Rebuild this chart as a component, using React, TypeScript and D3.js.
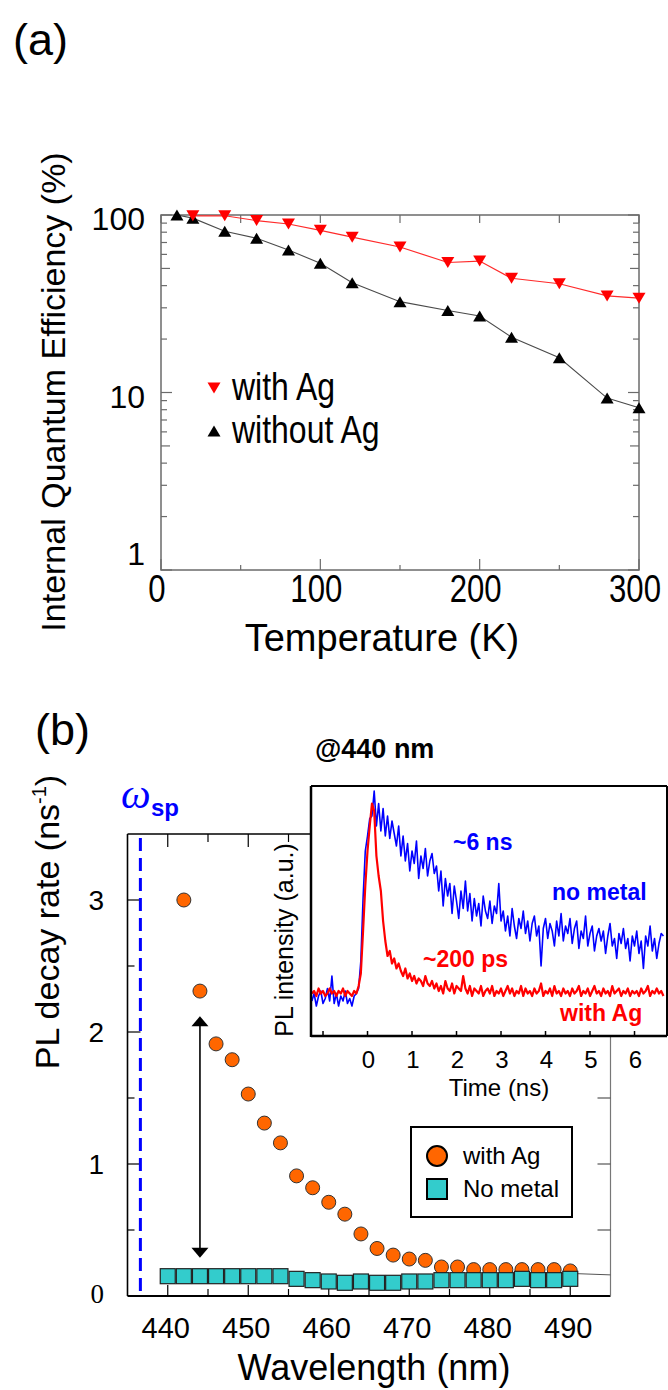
import React from 'react'
import { scaleLinear, scaleLog, line, range } from 'd3'

// (a) internal quantum efficiency vs temperature
const tempWithAg = [20, 40, 60, 80, 100, 120, 150, 180, 200, 220, 250, 280, 300]
const iqeWithAg = [99, 99, 93, 89, 82, 75, 66, 54, 55, 44, 41, 35, 34]
const tempNoAg = [10, 20, 40, 60, 80, 100, 120, 150, 180, 200, 220, 250, 280, 300]
const iqeNoAg = [100, 96, 81, 74, 63.5, 53.5, 41.5, 32.5, 29, 27, 20.5, 15.7, 9.3, 8.2]
const aXTicks = [0, 100, 200, 300]
const aYTicks = [100, 10, 1]

// (b) PL decay rate vs wavelength
const waveWithAg = range(442, 491, 2)
const rateWithAg = [3.0, 2.31, 1.91, 1.79, 1.53, 1.31, 1.16, 0.91, 0.82, 0.71, 0.62, 0.47, 0.36, 0.31, 0.28, 0.27, 0.22, 0.22, 0.2, 0.2, 0.2, 0.2, 0.2, 0.2, 0.19]
const waveNoMetal = range(440, 491, 2)
const rateNoMetal = [0.15, 0.15, 0.15, 0.15, 0.15, 0.15, 0.15, 0.15, 0.13, 0.12, 0.11, 0.1, 0.11, 0.1, 0.1, 0.11, 0.11, 0.12, 0.12, 0.12, 0.12, 0.12, 0.13, 0.12, 0.12, 0.13]
const fitTail = [[486, 0.18], [495, 0.16]]
const omegaSp = 436.6
const arrowWave = 444
const arrowSpan = [0.29, 2.12]
const bXTicks = [440, 450, 460, 470, 480, 490]
const bYTicks = [3, 2, 1]

// inset: PL transients @440 nm, sampled every 0.05 ns from -1.25 ns
const tStart = -1.25
const tStep = 0.05
const plNoMetal = [
  0.14, 0.17, 0.12, 0.16, 0.18, 0.13, 0.15, 0.19, 0.14, 0.24, 0.13, 0.17, 0.12, 0.16, 0.14, 0.18, 0.13, 0.15, 0.12, 0.16, 0.17, 0.19,
  0.30, 0.55, 0.74, 0.80, 0.87, 0.88, 0.98,
  0.84, 0.93, 0.82, 0.91, 0.80, 0.88, 0.79, 0.86, 0.81, 0.76, 0.84,
  0.72, 0.80, 0.70, 0.77, 0.66, 0.74, 0.69, 0.78, 0.63, 0.72, 0.67, 0.75, 0.64, 0.70, 0.73, 0.65,
  0.68, 0.58, 0.66, 0.52, 0.63, 0.56, 0.61, 0.49, 0.60, 0.54, 0.47, 0.58, 0.51, 0.62,
  0.50, 0.57, 0.46, 0.55, 0.48, 0.53, 0.44, 0.56, 0.50, 0.47, 0.54, 0.45, 0.52, 0.49, 0.61, 0.46,
  0.50, 0.42, 0.48, 0.40, 0.51, 0.44, 0.39, 0.47, 0.43, 0.50, 0.41, 0.46, 0.38, 0.45,
  0.48, 0.40, 0.44, 0.28, 0.43, 0.47, 0.39, 0.45, 0.42, 0.36, 0.46, 0.40, 0.49, 0.38, 0.44, 0.41,
  0.47, 0.37, 0.43, 0.46, 0.35, 0.42, 0.39, 0.48, 0.36, 0.41, 0.44, 0.34, 0.40, 0.43,
  0.38, 0.42, 0.33, 0.40, 0.45, 0.36, 0.39, 0.31, 0.41, 0.37, 0.43, 0.35, 0.39, 0.30, 0.40, 0.36,
  0.42, 0.33, 0.38, 0.27, 0.40, 0.36, 0.44, 0.34, 0.39, 0.31, 0.37, 0.41, 0.40,
]
const plWithAg = [
  0.17, 0.18, 0.16, 0.19, 0.17, 0.18, 0.16, 0.17, 0.19, 0.17, 0.18, 0.16, 0.18, 0.17, 0.19, 0.16, 0.18, 0.17, 0.16, 0.18, 0.17, 0.20,
  0.25, 0.42, 0.60, 0.74, 0.84, 0.93, 0.90,
  0.72, 0.64, 0.58, 0.46, 0.38, 0.32, 0.34, 0.29, 0.31, 0.27, 0.29, 0.26, 0.24, 0.27, 0.23, 0.25, 0.22, 0.24, 0.21, 0.23, 0.22, 0.20, 0.24, 0.21, 0.20, 0.22, 0.19,
  0.21, 0.18, 0.20, 0.17, 0.22, 0.19, 0.18, 0.21, 0.17, 0.20, 0.19, 0.18, 0.24, 0.19,
  0.17, 0.20, 0.16, 0.19, 0.18, 0.17, 0.20, 0.16, 0.18, 0.19, 0.17, 0.20, 0.16, 0.18, 0.17, 0.19,
  0.16, 0.18, 0.20, 0.17, 0.19, 0.16, 0.18, 0.17, 0.20, 0.16, 0.19, 0.17, 0.18, 0.16,
  0.19, 0.17, 0.18, 0.21, 0.16, 0.18, 0.17, 0.19, 0.16, 0.20, 0.17, 0.18, 0.16, 0.19, 0.17, 0.18,
  0.16, 0.19, 0.17, 0.18, 0.20, 0.16, 0.18, 0.17, 0.19, 0.16, 0.18, 0.20, 0.17, 0.18,
  0.16, 0.19, 0.17, 0.18, 0.16, 0.20, 0.17, 0.18, 0.19, 0.16, 0.18, 0.17, 0.19, 0.16, 0.18, 0.17,
  0.18, 0.16, 0.19, 0.17, 0.18, 0.20, 0.16, 0.18, 0.17, 0.19, 0.17, 0.18, 0.16,
]
const iXTicks = [-1, 0, 1, 2, 3, 4, 5, 6]

const FONT = 'Liberation Sans, Arial, Helvetica, sans-serif'
const ORANGE = '#ff6600'
const TEAL = '#33cccc'

const triUp = 'M0,-5.5L6.5,5.5L-6.5,5.5Z'
const triDown = 'M0,5.5L6.5,-5.5L-6.5,-5.5Z'

// narrow-looking text (horizontally squeezed)
const Narrow = ({ x, y, size, anchor = 'start', children }: any) => (
  <text transform={`translate(${x},${y}) scale(0.82,1)`} fontSize={size} textAnchor={anchor} fontFamily={FONT}>{children}</text>
)

const PanelA = () => {
  const x = scaleLinear().domain([0, 300]).range([161, 639])
  const y = scaleLog().domain([1, 100]).range([570, 215])
  const [x0, x1] = x.range()
  const [yb, yt] = y.range()
  const axisCol = '#6b6b6b'
  const minor: { v: number, len: number }[] = []
  ;[1, 10].forEach(d => range(1, 10).forEach(m => minor.push({ v: d * m, len: m === 1 ? 11 : m === 5 ? 9 : 6 })))
  minor.push({ v: 100, len: 11 })
  const redLine = line<number>().x((_, i) => x(tempWithAg[i])).y(d => y(d))
  const blkLine = line<number>().x((_, i) => x(tempNoAg[i])).y(d => y(d))
  return (
    <g>
      <text x={13} y={55} fontSize={45} fontFamily={FONT}>(a)</text>
      <rect x={x0} y={yt} width={x1 - x0} height={yb - yt} fill="none" stroke={axisCol} strokeWidth={1.5} />
      {range(0, 301, 50).map(t => (
        <g key={t} stroke={axisCol} strokeWidth={1.2}>
          <line x1={x(t)} x2={x(t)} y1={yb} y2={yb - (t % 100 === 0 ? 11 : 5)} />
          <line x1={x(t)} x2={x(t)} y1={yt} y2={yt + 8} />
        </g>
      ))}
      {minor.map(m => (
        <g key={m.v} stroke={axisCol} strokeWidth={1.2}>
          <line x1={x0} x2={x0 + m.len} y1={y(m.v)} y2={y(m.v)} />
          <line x1={x1} x2={x1 - m.len} y1={y(m.v)} y2={y(m.v)} />
        </g>
      ))}
      {aYTicks.map(v => (
        <text key={v} x={145} y={v === 1 ? 565 : y(v) + 15} fontSize={32} textAnchor="end" fontFamily={FONT}>{v}</text>
      ))}
      {aXTicks.map(t => (
        <Narrow key={t} x={x(t) - 4} y={602} size={38} anchor="middle">{t}</Narrow>
      ))}
      <text transform="translate(65,392) rotate(-90)" fontSize={34} textAnchor="middle" fontFamily={FONT}>Internal Quantum Efficiency (%)</text>
      <text x={382} y={651} fontSize={38} textAnchor="middle" fontFamily={FONT}>Temperature (K)</text>

      <path d={blkLine(iqeNoAg) || ''} fill="none" stroke="#4a4a4a" strokeWidth={1.1} />
      <path d={redLine(iqeWithAg) || ''} fill="none" stroke="#ff2a2a" strokeWidth={1.2} />
      {iqeNoAg.map((v, i) => (
        <path key={'b' + i} d={triUp} transform={`translate(${x(tempNoAg[i])},${y(v)})`} fill="#000" />
      ))}
      {iqeWithAg.map((v, i) => (
        <path key={'r' + i} d={triDown} transform={`translate(${x(tempWithAg[i])},${y(v)})`} fill="#ff0000" />
      ))}

      <path d={triDown} transform="translate(214,388)" fill="#ff0000" />
      <Narrow x={232} y={400} size={39}>with Ag</Narrow>
      <path d={triUp} transform="translate(214,431)" fill="#000" />
      <Narrow x={232} y={443} size={39}>without Ag</Narrow>
    </g>
  )
}

const Inset = () => {
  const x = scaleLinear().domain([-1.27, 6.73]).range([311, 667])
  const y = scaleLinear().domain([0, 1]).range([1036, 786])
  const [x0, x1] = x.range()
  const [yb, yt] = y.range()
  const trace = line<number>().x((_, i) => x(tStart + i * tStep)).y(d => y(d))
  return (
    <g>
      <rect x={x0} y={yt} width={x1 - x0} height={yb - yt} fill="#fff" />
      <defs>
        <clipPath id="inset-clip">
          <rect x={x0} y={yt} width={x1 - x0} height={yb - yt} />
        </clipPath>
      </defs>
      <g clipPath="url(#inset-clip)">
        <path d={trace(plNoMetal) || ''} fill="none" stroke="#0000ff" strokeWidth={1.6} strokeLinejoin="round" />
        <path d={trace(plWithAg) || ''} fill="none" stroke="#ff0000" strokeWidth={2.2} strokeLinejoin="round" />
      </g>
      <line x1={x0} x2={x1} y1={yt} y2={yt} stroke="#000" strokeWidth={2} />
      <line x1={x1} x2={x1} y1={yt} y2={yb} stroke="#000" strokeWidth={2} />
      <line x1={x0} x2={x0} y1={yt} y2={yb + 1} stroke="#000" strokeWidth={2.5} />
      <line x1={x0} x2={x1} y1={yb} y2={yb} stroke="#000" strokeWidth={2.5} />
      {iXTicks.map(t => (
        <line key={t} x1={x(t)} x2={x(t)} y1={yb} y2={yb - 5} stroke="#000" strokeWidth={1.5} />
      ))}
      {iXTicks.filter(t => t >= 0).map(t => (
        <text key={t} x={x(t) + 1} y={1068} fontSize={24} textAnchor="middle" fontFamily={FONT}>{t}</text>
      ))}
      <text x={499} y={1096} fontSize={24} textAnchor="middle" fontFamily={FONT}>Time (ns)</text>
      <text transform="translate(293,940) rotate(-90)" fontSize={25} textAnchor="middle" fontFamily={FONT}>PL intensity (a.u.)</text>
      <text x={315} y={758} fontSize={27} fontWeight="bold" fontFamily={FONT}>@440 nm</text>
      <g fontSize={23} fontWeight="bold" fontFamily={FONT}>
        <text x={453} y={850} fill="#0000ff">~6 ns</text>
        <text x={552} y={900} fill="#0000ff">no metal</text>
        <text x={423} y={967} fill="#ff0000">~200 ps</text>
        <text x={560} y={1021} fill="#ff0000">with Ag</text>
      </g>
    </g>
  )
}

const PanelB = () => {
  const x = scaleLinear().domain([435, 495]).range([127.5, 610.5])
  const y = scaleLinear().domain([0, 3.5]).range([1296, 834])
  const [x0, x1] = x.range()
  const [yb, yt] = y.range()
  const tail = line<number[]>().x(d => x(d[0])).y(d => y(d[1]))
  const ax = arrowSpan.map(v => y(v))
  const xa = x(arrowWave)
  return (
    <g>
      <text x={35} y={745} fontSize={45} fontFamily={FONT}>(b)</text>
      {/* frame */}
      <line x1={x0} x2={x0} y1={yt} y2={yb} stroke="#000" strokeWidth={1.6} />
      <line x1={x0} x2={x1} y1={yb} y2={yb} stroke="#000" strokeWidth={2} />
      <line x1={x0} x2={x1} y1={yt} y2={yt} stroke="#000" strokeWidth={1.6} />
      <line x1={x1} x2={x1} y1={yt} y2={yb} stroke="#777" strokeWidth={1.2} />
      {range(440, 495, 5).map(w => (
        <g key={w} stroke="#000" strokeWidth={1.2}>
          <line x1={x(w)} x2={x(w)} y1={yb} y2={yb - (w % 10 === 0 ? 11 : 7)} />
          <line x1={x(w)} x2={x(w)} y1={yt} y2={yt + (w % 10 === 0 ? 13 : 8)} />
        </g>
      ))}
      {range(0.5, 3.5, 0.5).map(v => (
        <g key={v} stroke="#000" strokeWidth={1.2}>
          <line x1={x0} x2={x0 + (v % 1 === 0 ? 13 : 7)} y1={y(v)} y2={y(v)} />
          <line x1={x1} x2={x1 - 13} y1={y(v)} y2={y(v)} stroke="#555" />
        </g>
      ))}
      {bYTicks.map(v => (
        <text key={v} x={104} y={y(v) + 10} fontSize={28} textAnchor="end" fontFamily={FONT}>{v}</text>
      ))}
      <text x={104} y={y(0) + 7} fontSize={27} textAnchor="end" fontFamily="Liberation Serif, Times New Roman, serif">0</text>
      {bXTicks.map(w => (
        <text key={w} x={x(w) - 2} y={1338} fontSize={29} textAnchor="middle" fontFamily={FONT}>{w}</text>
      ))}
      <text x={374} y={1380} fontSize={36} textAnchor="middle" fontFamily={FONT}>Wavelength (nm)</text>
      <text transform="translate(59,922) rotate(-90)" fontSize={34} textAnchor="middle" fontFamily={FONT}>
        PL decay rate (ns<tspan fontSize={20} dy={-13}>-1</tspan><tspan dy={13}>)</tspan>
      </text>

      {/* surface plasmon frequency */}
      <line x1={x(omegaSp)} x2={x(omegaSp)} y1={y(3.47)} y2={y(0.03)} stroke="#0000ff" strokeWidth={3} strokeDasharray="13 7" />
      <text x={121} y={808} fill="#0000ff" fontSize={42} fontStyle="italic" fontFamily="Liberation Serif, Times New Roman, serif">ω</text>
      <text x={151} y={816} fill="#0000ff" fontSize={24} fontWeight="bold" fontFamily={FONT}>sp</text>

      {/* arrow */}
      <line x1={xa} x2={xa} y1={ax[1] + 8} y2={ax[0] - 8} stroke="#000" strokeWidth={1.6} />
      <path d={`M${xa},${ax[1]}L${xa + 8.5},${ax[1] + 10}L${xa - 8.5},${ax[1] + 10}Z`} fill="#000" />
      <path d={`M${xa},${ax[0]}L${xa + 8.5},${ax[0] - 10}L${xa - 8.5},${ax[0] - 10}Z`} fill="#000" />

      <path d={tail(fitTail) || ''} fill="none" stroke="#555" strokeWidth={1} />
      {rateWithAg.map((v, i) => (
        <circle key={'c' + i} cx={x(waveWithAg[i])} cy={y(v)} r={7} fill={ORANGE} stroke="#333" strokeWidth={1} />
      ))}
      {rateNoMetal.map((v, i) => (
        <rect key={'s' + i} x={x(waveNoMetal[i]) - 7.5} y={y(v) - 7.5} width={15} height={15} fill={TEAL} stroke="#222" strokeWidth={1.2} />
      ))}

      {/* legend */}
      <rect x={411} y={1127} width={161} height={90} fill="#fff" stroke="#000" strokeWidth={2} />
      <circle cx={437} cy={1156} r={10} fill={ORANGE} stroke="#000" strokeWidth={2} />
      <rect x={427} y={1179} width={20} height={20} fill={TEAL} stroke="#000" strokeWidth={2} />
      <text x={463} y={1164} fontSize={24} fontFamily={FONT}>with Ag</text>
      <text x={463} y={1197} fontSize={24} fontFamily={FONT}>No metal</text>

      <Inset />
    </g>
  )
}

export default function App() {
  return (
    <svg width={668} height={1390} style={{ position: 'absolute', left: 0, top: 0, background: '#fff' }}>
      <rect width={668} height={1390} fill="#fff" />
      <PanelA />
      <PanelB />
    </svg>
  )
}
